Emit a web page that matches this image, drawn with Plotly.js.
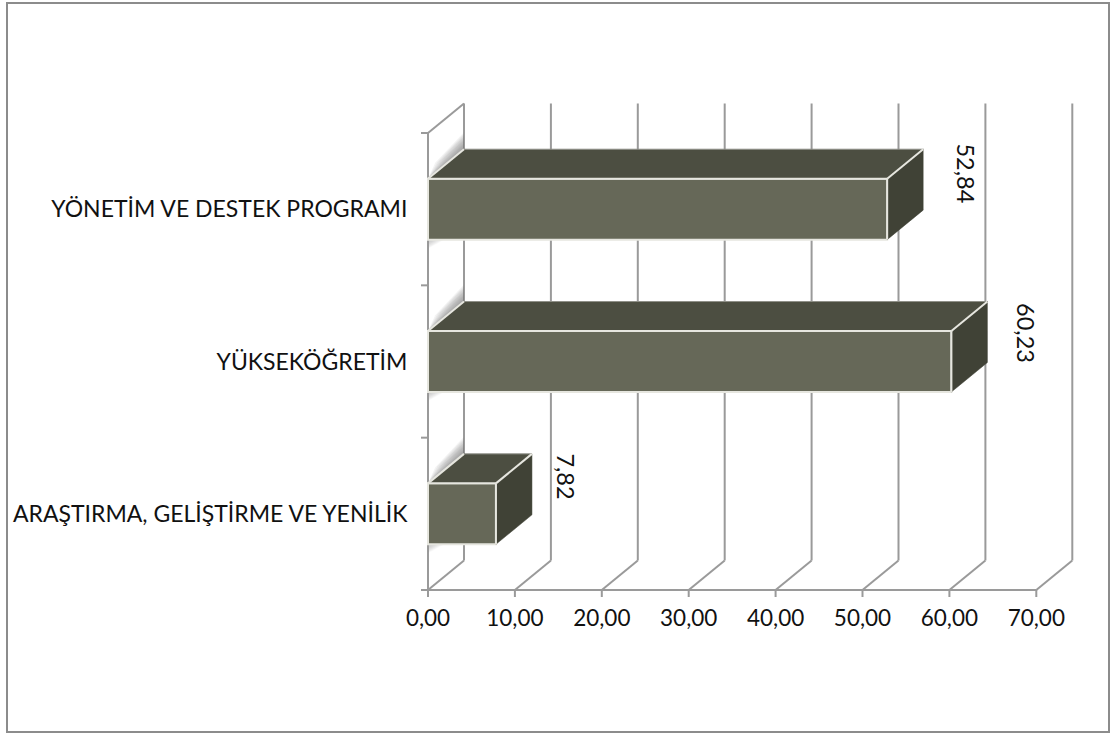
<!DOCTYPE html>
<html>
<head>
<meta charset="utf-8">
<script src="https://cdn.plot.ly/plotly-3.0.1.min.js"></script>
<style>html,body{margin:0;padding:0;background:#fff}#c{width:1118px;height:733px}</style>
</head>
<body>
<div id="c"></div>
<script>
const categories = ["ARAŞTIRMA, GELİŞTİRME VE YENİLİK", "YÜKSEKÖĞRETİM", "YÖNETİM VE DESTEK PROGRAMI"];
const values = [7.82, 60.23, 52.84];
const labels = ["7,82", "60,23", "52,84"];
const xTicks = [0, 10, 20, 30, 40, 50, 60, 70];

// geometry in pixels, converted to axis units below
const PX = 8.69, PY = 152.33, X0 = 428, Y0 = 590;
const L = 418, R = 1082, T = 93, B = 602;
const dx = 36 / PX, dy = 29.5 / PY, barW = 0.4;
const ys = categories.map((_, i) => i + 0.5);
const GRID = "#9a9a9a", EDGE = "#e6e6df";
const FRONT = "#666858", TOP = "#4c4e41", SIDE = "#404236";
const FONT = "Lato, 'Noto Sans', sans-serif";

const shapes = [];
function seg(x1, y1, x2, y2, w, c) {
  shapes.push({type: "line", xref: "x", yref: "y", layer: "below", x0: x1, y0: y1, x1: x2, y1: y2,
    line: {color: c || GRID, width: w || 2}});
}
const tipY = 3 + dy;
xTicks.forEach(t => {
  seg(t + dx, tipY, t + dx, dy);
  seg(t + dx, dy, t, 0);
  seg(t, 0, t, -7 / PY);
});
seg(0, 0, 0, 3);
seg(0, 3, dx, tipY);
seg(-7 / PX, 0, 70, 0);
[1, 2, 3].forEach(v => seg(-7 / PX, v, 0, v));

// soft shadow on the side wall next to each bar
const traces = [];
const steps = 12;
ys.forEach(y => {
  const top = y + barW / 2, bot = y - barW / 2;
  for (let s = 1; s <= steps; s++) {
    const f = s / steps;
    shapes.push({type: "path", xref: "x", yref: "y", layer: "below", line: {width: 0},
      fillcolor: "rgba(120,120,120,0.09)",
      path: `M0,${top} L${dx},${top + dy} L${dx},${top + dy + f * 17 / PY} L${dx * (1 - f * 0.8)},${top + dy * (1 - f * 0.8) + f * 10 / PY} Z`});
    shapes.push({type: "path", xref: "x", yref: "y", layer: "below", line: {width: 0},
      fillcolor: "rgba(150,150,150,0.06)",
      path: `M0,${bot} L${dx * 0.45 * f},${bot} L0,${bot - f * 9 / PY} Z`});
  }
});

// front faces
traces.push({type: "bar", orientation: "h", x: values, y: ys, width: barW, base: 0,
  marker: {color: FRONT, line: {color: EDGE, width: 2}}, hoverinfo: "skip", showlegend: false});

// top and side faces
values.forEach((v, i) => {
  const top = ys[i] + barW / 2, bot = ys[i] - barW / 2;
  traces.push({type: "scatter", mode: "lines", fill: "toself", fillcolor: TOP, hoverinfo: "skip", showlegend: false,
    line: {width: 1, color: "#8f9088"},
    x: [0, dx, v + dx, v, 0], y: [top, top + dy, top + dy, top, top]});
  traces.push({type: "scatter", mode: "lines", fill: "toself", fillcolor: SIDE, hoverinfo: "skip", showlegend: false,
    line: {width: 0.5, color: SIDE},
    x: [v, v + dx, v + dx, v, v], y: [top, top + dy, bot + dy, bot, top]});
  traces.push({type: "scatter", mode: "lines", hoverinfo: "skip", showlegend: false,
    line: {width: 2, color: EDGE},
    x: [0, dx, null, v, v + dx, null, v, v, null, 0, v], y: [top, top + dy, null, top, top + dy, null, top, bot, null, top, top]});
});

// value labels offset from the bar end
const labelOffset = [[70, 37.5], [75, 28], [79, 35.5]];
const annotations = values.map((v, i) => ({
  x: v, y: ys[i], xref: "x", yref: "y", text: labels[i], textangle: 90, showarrow: false,
  xanchor: "center", yanchor: "middle", xshift: labelOffset[i][0], yshift: labelOffset[i][1],
  font: {family: FONT, size: 23.5, color: "#111"}
}));

const layout = {
  width: 1118, height: 733, paper_bgcolor: "#fff", plot_bgcolor: "rgba(0,0,0,0)",
  margin: {l: L, r: 1118 - R, t: T, b: 733 - B, pad: 0},
  showlegend: false, hovermode: false, separators: ",.", bargap: 0,
  xaxis: {range: [(L - X0) / PX, (R - X0) / PX], tickvals: xTicks, tickformat: ".2f", showgrid: false, zeroline: false,
    showline: false, ticks: "", tickfont: {family: FONT, size: 22.5, color: "#111"}},
  yaxis: {range: [(Y0 - B) / PY, (Y0 - T) / PY], tickvals: ys, ticktext: categories, showgrid: false, zeroline: false,
    showline: false, ticks: "outside", ticklen: 5, tickcolor: "rgba(0,0,0,0)",
    tickfont: {family: FONT, size: 23, color: "#111"}},
  shapes,
  annotations
};
// outer frame drawn in page pixels from the paper fractions
const w = R - L, h = B - T;
layout.shapes.push({type: "rect", xref: "paper", yref: "paper", layer: "below",
  x0: (7 - L) / w, x1: (1109 - L) / w, y0: (B - 732) / h, y1: (B - 3) / h,
  line: {color: "#8c8c8c", width: 2}, fillcolor: "rgba(0,0,0,0)"});

Plotly.newPlot("c", traces, layout, {displayModeBar: false, staticPlot: true});
</script>
</body>
</html>
